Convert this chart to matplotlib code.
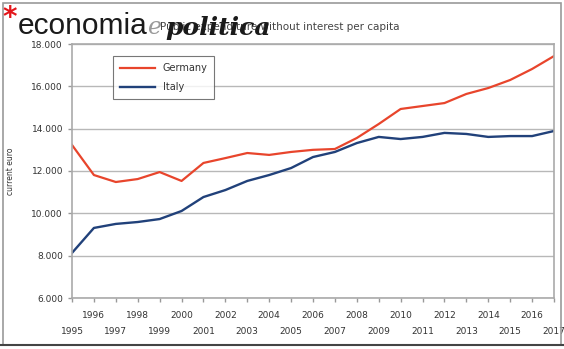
import matplotlib.pyplot as plt
from matplotlib.patches import Rectangle
from matplotlib.lines import Line2D

years = list(range(1995, 2018))
germany = [13230, 11810, 11480, 11620, 11950, 11530, 12380, 12610, 12850, 12760,
           12900, 13000, 13040, 13560, 14220, 14930, 15070, 15210, 15640, 15920,
           16300, 16820, 17430]
italy = [8130, 9310, 9500, 9590, 9730, 10110, 10770, 11100, 11530, 11810,
         12140, 12660, 12900, 13320, 13610, 13510, 13610, 13800, 13750, 13610,
         13650, 13650, 13890]
y_ticks = [6000, 8000, 10000, 12000, 14000, 16000, 18000]
y_labels = ["6.000", "8.000", "10.000", "12.000", "14.000", "16.000", "18.000"]

RED = "#e8452c"
BLUE = "#21417a"
GRID = "#b8b8b8"
TXT = "#333333"

fig = plt.figure(figsize=(5.64, 3.49), dpi=100)
ax = fig.add_axes([72 / 564, 1 - 298 / 349, 482 / 564, 254 / 349])

ax.plot(years, germany, color=RED, lw=1.6, label="Germany")
ax.plot(years, italy, color=BLUE, lw=1.7, label="Italy")

ax.set_xlim(1995, 2017)
ax.set_ylim(6000, 18000)
ax.set_yticks(y_ticks)
ax.set_yticklabels(y_labels, fontsize=6.5, color=TXT)
ax.yaxis.grid(True, color=GRID, lw=1.0)
ax.set_axisbelow(True)

# two rows of year labels: even years up, odd years below
ax.set_xticks(years)
ax.set_xticklabels([])
for yr in years:
    off = 0.07 if yr % 2 == 0 else 0.132
    ax.text(yr, -off, str(yr), transform=ax.get_xaxis_transform(),
            ha="center", va="center", fontsize=6.5, color=TXT)

ax.tick_params(axis="both", length=3, color="#999999", width=1)
for side in ["top", "right", "bottom", "left"]:
    ax.spines[side].set_color("#aaaaaa")
    ax.spines[side].set_linewidth(1.2)

ax.set_ylabel("current euro", fontsize=5.5, color=TXT)
ax.yaxis.set_label_coords(-0.118, 0.5)

leg = ax.legend(loc="upper left", bbox_to_anchor=(0.075, 0.97), fontsize=7,
                frameon=True, fancybox=False, edgecolor="#555555",
                handlelength=3.6, borderpad=0.7, labelspacing=0.9)
leg.get_frame().set_linewidth(0.8)
for t in leg.get_texts():
    t.set_color(TXT)

fig.text(400 / 564, 1 - 27 / 349, "Public expenditure without interest per capita",
         ha="right", va="center", fontsize=7.5, color="#444444")

# masthead
fig.text(2 / 564, 1 - 18 / 349, "*", fontsize=20, color="#e3161b",
         fontweight="bold", ha="left", va="center")
fig.text(18 / 564, 1 - 34 / 349, "economia", fontsize=21.5, color="#1a1a1a",
         ha="left", va="baseline", family="Liberation Sans")
fig.text(148 / 564, 1 - 34 / 349, "e", fontsize=17, color="#9a9a9a",
         ha="left", va="baseline", family="DejaVu Serif", style="italic")
fig.text(165 / 564, 1 - 35 / 349, "politica", fontsize=18, color="#1a1a1a",
         ha="left", va="baseline", family="DejaVu Serif", style="italic",
         fontweight="bold")

# outer frame
fig.add_artist(Rectangle((3 / 564, 4 / 349), 558 / 564, 342 / 349,
                         transform=fig.transFigure, fill=False,
                         edgecolor="#9a9a9a", lw=1.2))
fig.add_artist(Line2D([0, 1], [4 / 349, 4 / 349], transform=fig.transFigure,
                      color="#444444", lw=1.5))

fig.savefig("out.png", dpi=100)
